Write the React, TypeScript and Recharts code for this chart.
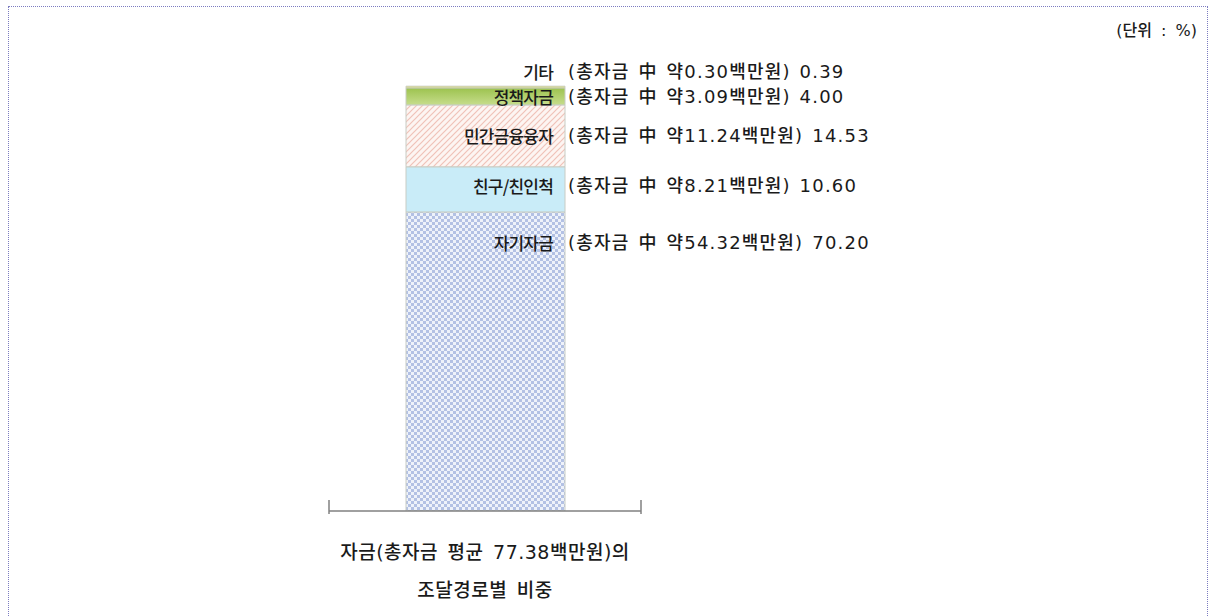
import { BarChart, Bar, XAxis, YAxis, LabelList } from 'recharts';

// 조달경로 (stack order: bottom -> top)
const sourceNames = ['자기자금', '친구/친인척', '민간금융융자', '정책자금', '기타'];
const sharePct = [70.2, 10.6, 14.53, 4.0, 0.39];
const amountMillion = [54.32, 8.21, 11.24, 3.09, 0.3];
const categoryLines = ['자금(총자금 평균 77.38백만원)의', '조달경로별 비중'];
const unitText = '(단위 : %)';

const fills = ['url(#checker)', '#c9ecf8', 'url(#hatch)', 'url(#policyGrad)', '#e4e444'];
// label offset from the segment top (px)
const labelDy = [31, 19, 31, 9, -15];

const FONT = "'Noto Sans CJK KR', 'Noto Sans', sans-serif";
const MIX_FONT = "'DejaVu Sans', 'Noto Sans CJK KR', sans-serif";
const INK = '#1a1a1a';

const row: Record<string, string | number> = { name: categoryLines.join(' ') };
sharePct.forEach((v, i) => {
  row[`s${i}`] = v;
});
const data = [row];

function makeLabel(i: number) {
  return (props: any) => {
    const { x, y, width } = props;
    const right = Number(x) + Number(width);
    const ty = Number(y) + labelDy[i];
    return (
      <g>
        <text
          x={right - 12}
          y={ty}
          textAnchor="end"
          dominantBaseline="central"
          fontSize={17}
          letterSpacing={-0.8}
          fontWeight={500}
          fill={INK}
          fontFamily={FONT}
        >
          {sourceNames[i]}
        </text>
        <text
          x={right + 3}
          y={ty}
          textAnchor="start"
          dominantBaseline="central"
          fontSize={18}
          letterSpacing={1.2}
          wordSpacing={2}
          fontWeight={500}
          fill={INK}
          fontFamily={MIX_FONT}
        >
          {`(총자금 中 약${amountMillion[i].toFixed(2)}백만원) ${sharePct[i].toFixed(2)}`}
        </text>
      </g>
    );
  };
}

// category label + the two end ticks of the band
function CategoryTick({ x, y, width }: any) {
  const half = Number(width) / 2;
  return (
    <g>
      <line x1={x - half} x2={x - half} y1={y - 11} y2={y + 3} stroke="#808080" strokeWidth={1.5} />
      <line x1={x + half} x2={x + half} y1={y - 11} y2={y + 3} stroke="#808080" strokeWidth={1.5} />
      {categoryLines.map((line, k) => (
        <text
          key={k}
          x={x}
          y={y + 41 + k * 38}
          textAnchor="middle"
          dominantBaseline="central"
          fontSize={19}
          letterSpacing={0.5}
          wordSpacing={3}
          fontWeight={500}
          fill={INK}
          fontFamily={MIX_FONT}
        >
          {line}
        </text>
      ))}
    </g>
  );
}

export default function App() {
  return (
    <div style={{ position: 'absolute', left: 0, top: 0, width: 1210, height: 616, background: '#fff', fontFamily: FONT }}>
      <div
        style={{
          position: 'absolute',
          left: 8,
          top: 6,
          width: 1200,
          height: 620,
          border: '1px dotted #7c7cc0',
          boxSizing: 'border-box',
        }}
      />
      <div
        style={{
          position: 'absolute',
          right: 13,
          top: 17,
          fontSize: 16,
          wordSpacing: 4,
          fontWeight: 500,
          color: INK,
          fontFamily: MIX_FONT,
        }}
      >
        {unitText}
      </div>
      <div style={{ position: 'absolute', left: 0, top: 0 }}>
        <BarChart width={1210} height={616} data={data} margin={{ top: 85, right: 569, bottom: 0, left: 329 }}>
          <defs>
            <pattern id="checker" patternUnits="userSpaceOnUse" width={6} height={6}>
              <rect width={6} height={6} fill="#eef2fa" />
              <rect x={0} y={0} width={3} height={3} fill="#b3c1e4" />
              <rect x={3} y={3} width={3} height={3} fill="#b3c1e4" />
            </pattern>
            <pattern id="hatch" patternUnits="userSpaceOnUse" width={6} height={6}>
              <rect width={6} height={6} fill="#fdf5f2" />
              <path d="M0,6 L6,0 M-1,1 L1,-1 M5,7 L7,5" stroke="#f0c2b8" strokeWidth={1.2} />
            </pattern>
            <linearGradient id="policyGrad" x1="0" y1="0" x2="0" y2="1">
              <stop offset="0%" stopColor="#9cc24e" />
              <stop offset="100%" stopColor="#c6dd8c" />
            </linearGradient>
          </defs>
          <XAxis
            dataKey="name"
            axisLine={{ stroke: '#808080', strokeWidth: 1.5 }}
            tickLine={false}
            tickSize={0}
            tickMargin={0}
            height={105}
            tick={<CategoryTick />}
            interval={0}
          />
          <YAxis hide domain={[0, 100]} allowDataOverflow />
          {sourceNames.map((n, i) => (
            <Bar
              key={n}
              dataKey={`s${i}`}
              name={n}
              stackId="a"
              fill={fills[i]}
              stroke="#c8ccc4"
              strokeWidth={1}
              barSize={159}
              isAnimationActive={false}
            >
              <LabelList dataKey={`s${i}`} content={makeLabel(i)} />
            </Bar>
          ))}
        </BarChart>
      </div>
    </div>
  );
}
